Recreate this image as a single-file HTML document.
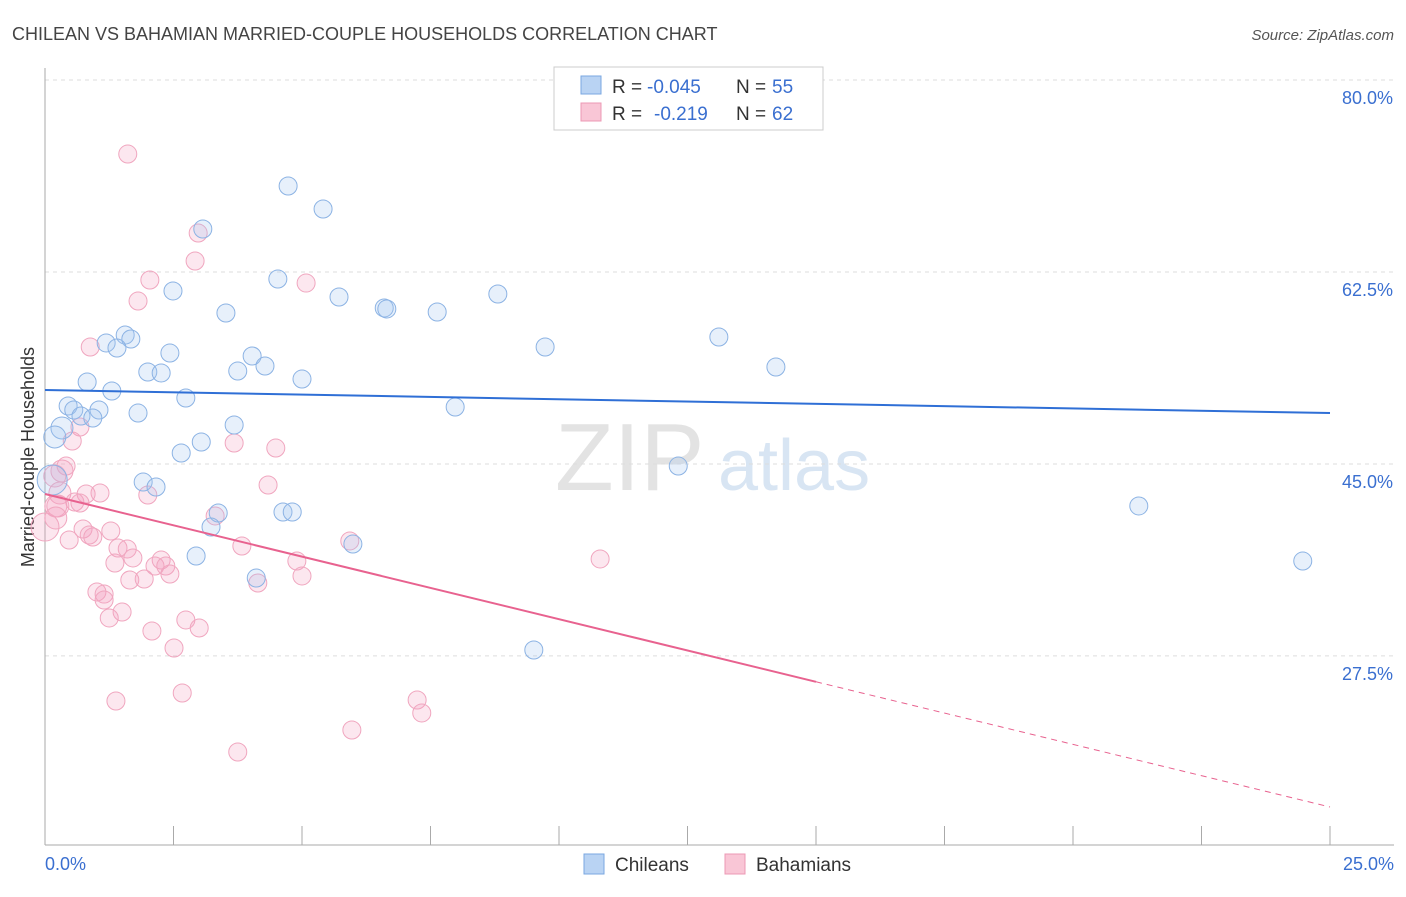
<!DOCTYPE html>
<html><head><meta charset="utf-8"><style>
body{margin:0;background:#fff;font-family:"Liberation Sans",sans-serif;}
svg text{font-family:"Liberation Sans",sans-serif;}
</style></head><body>
<svg id="chart" width="1406" height="892" xmlns="http://www.w3.org/2000/svg">
<text x="12" y="40" font-size="18" fill="#444">CHILEAN VS BAHAMIAN MARRIED-COUPLE HOUSEHOLDS CORRELATION CHART</text>
<text x="1394" y="40" font-size="15" fill="#555" text-anchor="end" font-style="italic">Source: ZipAtlas.com</text>
<text transform="translate(34,457) rotate(-90)" font-size="18" fill="#333" text-anchor="middle">Married-couple Households</text>
<text x="555" y="490" font-size="96" fill="#e3e3e3" font-family="Liberation Serif,serif">ZIP</text>
<text x="718" y="490" font-size="72" fill="#d8e5f3">atlas</text>
<g id="grid"></g><g id="axes"></g><g id="pts"></g><g id="lines"></g>
<g>
<rect x="554" y="67" width="269" height="63" fill="#fff" stroke="#ccc"/>
<rect x="581" y="76" width="20" height="18" fill="#b9d3f3" stroke="#7aa7e0"/>
<rect x="581" y="103" width="20" height="18" fill="#f9c6d6" stroke="#ec98b4"/>
<text x="612" y="93" font-size="19" fill="#333">R =</text>
<text x="647" y="93" font-size="19" fill="#3a6fd0">-0.045</text>
<text x="736" y="93" font-size="19" fill="#333">N =</text>
<text x="772" y="93" font-size="19" fill="#3a6fd0">55</text>
<text x="612" y="120" font-size="19" fill="#333">R =</text>
<text x="654" y="120" font-size="19" fill="#3a6fd0">-0.219</text>
<text x="736" y="120" font-size="19" fill="#333">N =</text>
<text x="772" y="120" font-size="19" fill="#3a6fd0">62</text>
</g>
<g>
<rect x="584" y="854" width="20" height="20" fill="#b9d3f3" stroke="#7aa7e0"/>
<text x="615" y="871" font-size="19" fill="#333">Chileans</text>
<rect x="725" y="854" width="20" height="20" fill="#f9c6d6" stroke="#ec98b4"/>
<text x="756" y="871" font-size="19" fill="#333">Bahamians</text>
</g>
</svg>
<script>
const yTicks=[80,62.5,45,27.5];
const xTickLabels=["0.0%","25.0%"];
const chileX=[4.73,5.41,3.07,4.53,2.49,5.72,8.81,3.52,6.60,6.65,7.63,1.56,1.67,1.19,1.40,2.43,9.73,13.11,4.03,4.28,2.00,2.26,3.75,5.00,14.22,0.82,1.30,2.74,0.45,0.56,1.05,0.70,0.93,1.81,7.98,0.33,3.68,0.19,3.04,2.65,12.32,1.91,2.16,0.14,3.37,3.23,4.63,4.81,21.28,2.94,5.99,24.47,4.11,9.51,14.07];
const chileY=[70.34,68.24,66.42,61.86,60.77,60.22,60.49,58.76,59.22,59.13,58.85,56.75,56.39,56.03,55.57,55.11,55.66,56.57,54.84,53.93,53.38,53.29,53.47,52.74,53.84,52.47,51.65,51.01,50.28,49.92,49.92,49.37,49.19,49.64,50.19,48.28,48.55,47.46,47.00,46.00,44.81,43.35,42.90,43.54,40.53,39.25,40.62,40.62,41.17,36.61,37.70,36.15,34.60,28.04,77.99];
const bahX=[1.61,2.98,2.92,2.04,5.08,1.81,0.88,0.68,0.53,3.68,4.49,0.41,0.33,0.19,4.34,0.29,0.80,1.07,2.00,0.58,0.68,0.21,0.25,0.74,1.28,0.93,0.86,0.47,3.31,5.93,3.83,1.42,1.60,1.71,2.26,1.36,2.14,2.35,4.90,2.43,1.65,1.93,5.00,10.80,4.14,1.01,1.15,1.15,1.50,1.25,2.74,3.00,2.08,2.51,2.67,1.38,7.24,7.33,5.97,3.75,0.00,0.21];
const bahY=[73.25,66.05,63.50,61.77,61.49,59.85,55.66,48.37,47.09,46.91,46.45,44.81,44.36,43.90,43.08,42.35,42.26,42.35,42.17,41.53,41.44,41.17,41.17,39.07,38.89,38.34,38.52,38.07,40.26,37.98,37.52,37.34,37.25,36.43,36.24,35.97,35.70,35.70,36.15,34.97,34.42,34.51,34.79,36.34,34.15,33.33,33.14,32.60,31.50,30.96,30.78,30.05,29.77,28.22,24.12,23.39,23.48,22.30,20.75,18.74,39.25,40.07];
const chileTrend=[51.74,49.64];
const bahTrend=[42.26,13.73];
const bahSolidEnd=15;
const NS="http://www.w3.org/2000/svg";
const X=v=>45+v*51.4;
const Y=v=>80+(80-v)*10.97;
function mk(tag,attrs,parent){const e=document.createElementNS(NS,tag);for(const k in attrs)e.setAttribute(k,attrs[k]);document.getElementById(parent).appendChild(e);return e;}
yTicks.forEach(t=>{
 const l=mk('line',{x1:45,x2:1394,y1:Y(t),y2:Y(t),stroke:'#ddd','stroke-dasharray':'4,4'},'grid');
 
 
 const tx=mk('text',{x:1393,y:Y(t)+24,'font-size':18,fill:'#3a6fd0','text-anchor':'end'},'grid');
 tx.textContent=t.toFixed(1)+'%';
 
 
});
const ax=mk('line',{x1:45,x2:45,y1:68,y2:845,stroke:'#aaa'},'axes');


const bx=mk('line',{x1:45,x2:1394,y1:845,y2:845,stroke:'#aaa'},'axes');


for(let i=0;i<=10;i++){
 const t=mk('line',{x1:X(i*2.5),x2:X(i*2.5),y1:826,y2:845,stroke:'#aaa'},'axes');
 
 
}
[[0,'start',45],[25,'end',1394]].forEach((d,i)=>{
 const t=mk('text',{x:d[2],y:870,'font-size':18,fill:'#3a6fd0','text-anchor':d[1]},'axes');
 t.textContent=xTickLabels[i];
 
 
});
bahX.forEach((v,i)=>{
 const r=(i===60)?14:(v<0.4?11:9);
 const c=mk('circle',{cx:X(v),cy:Y(bahY[i]),r:r,fill:'rgba(244,160,190,0.25)',stroke:'#f0a6bf','stroke-width':1},'pts');
 
 
});
chileX.forEach((v,i)=>{
 const r=(i===43)?15:(v<0.4?11:9);
 const c=mk('circle',{cx:X(v),cy:Y(chileY[i]),r:r,fill:'rgba(160,195,240,0.25)',stroke:'#8cb3e4','stroke-width':1},'pts');
 
 
});
const bl=mk('line',{x1:X(0),y1:Y(chileTrend[0]),x2:X(25),y2:Y(chileTrend[1]),stroke:'#2f6fd6','stroke-width':2},'lines');


const pm=bahTrend[0]+(bahTrend[1]-bahTrend[0])*bahSolidEnd/25;
const pl=mk('line',{x1:X(0),y1:Y(bahTrend[0]),x2:X(bahSolidEnd),y2:Y(pm),stroke:'#e8628f','stroke-width':2},'lines');


const pd=mk('line',{x1:X(bahSolidEnd),y1:Y(pm),x2:X(25),y2:Y(bahTrend[1]),stroke:'#e8628f','stroke-width':1,'stroke-dasharray':'6,5'},'lines');


</script>
</body></html>
